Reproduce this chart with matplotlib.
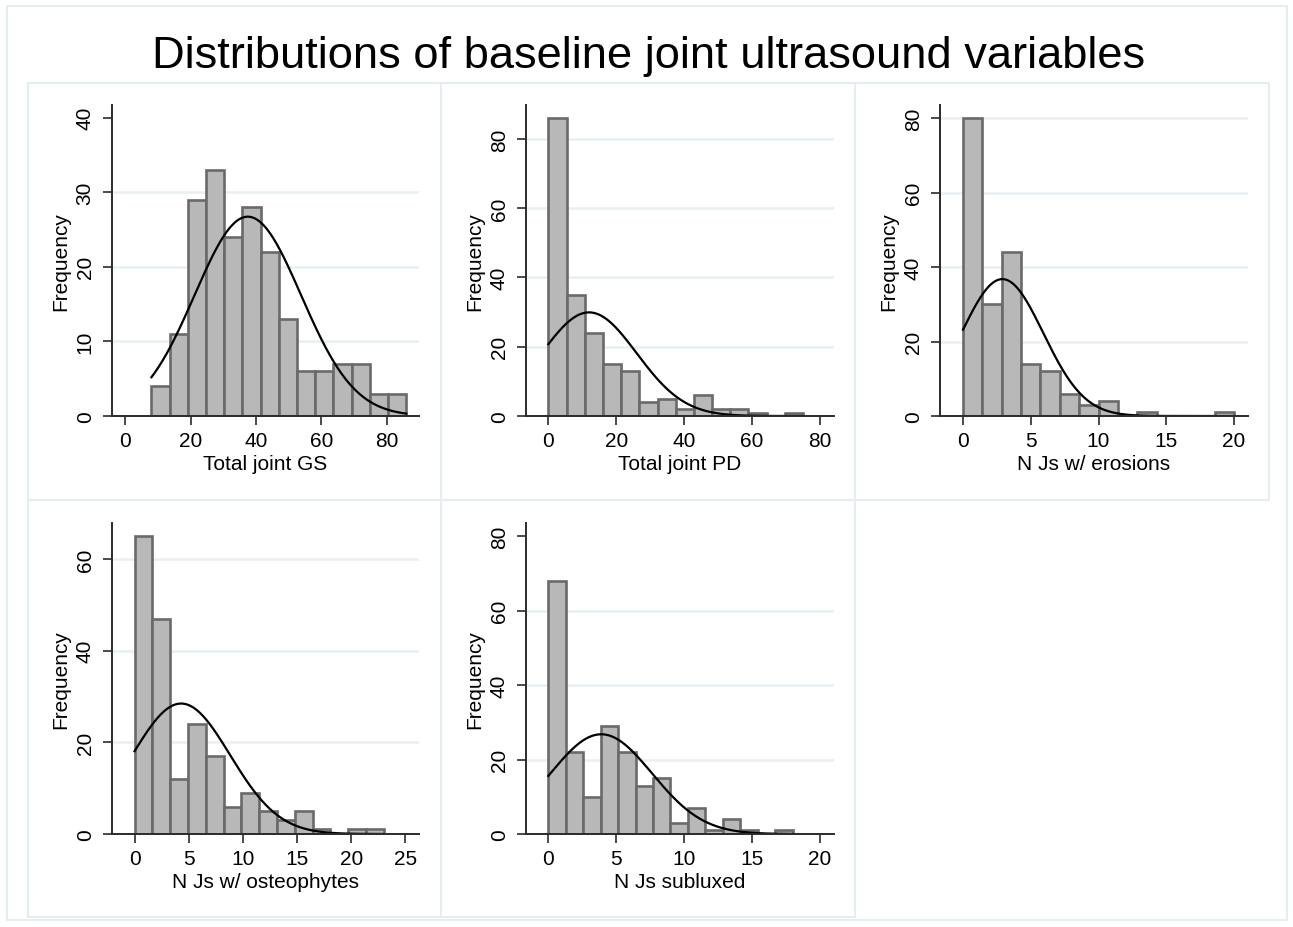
import numpy as np
import matplotlib
matplotlib.use("Agg")
import matplotlib.pyplot as plt
from matplotlib.patches import Rectangle

plt.rcParams['font.family'] = ['Liberation Sans', 'DejaVu Sans']

TITLE = "Distributions of baseline joint ultrasound variables"

# ---- data ----
gs_counts = [4, 11, 29, 33, 24, 28, 22, 13, 6, 6, 7, 7, 3, 3]
gs_range = (8, 86)
gs_mean, gs_sd = 37.5, 16.3

pd_counts = [86, 35, 24, 15, 13, 4, 5, 2, 6, 2, 2, 1, 0, 1]
pd_range = (0, 75)
pd_mean, pd_sd = 12.0, 14.0

ero_counts = [80, 30, 44, 14, 12, 6, 3, 4, 0, 1, 0, 0, 0, 1]
ero_range = (0, 20)
ero_mean, ero_sd = 2.9, 3.02

ost_counts = [65, 47, 12, 24, 17, 6, 9, 5, 3, 5, 1, 0, 1, 1]
ost_range = (0, 23)
ost_mean, ost_sd = 4.3, 4.51

sub_counts = [68, 22, 10, 29, 22, 13, 15, 3, 7, 1, 4, 1, 0, 1]
sub_range = (0, 18)
sub_mean, sub_sd = 3.9, 3.75

xlabels = ["Total joint GS", "Total joint PD", "N Js w/ erosions",
           "N Js w/ osteophytes", "N Js subluxed"]
xticks_list = [[0, 20, 40, 60, 80], [0, 20, 40, 60, 80], [0, 5, 10, 15, 20],
               [0, 5, 10, 15, 20, 25], [0, 5, 10, 15, 20]]
yticks_list = [[0, 10, 20, 30, 40], [0, 20, 40, 60, 80], [0, 20, 40, 60, 80],
               [0, 20, 40, 60], [0, 20, 40, 60, 80]]
grid_list = [[10, 20, 30], [20, 40, 60, 80], [20, 40, 60, 80],
             [20, 40, 60], [20, 40, 60]]

# ---- layout (pixels) ----
W, H = 1293, 928
fig = plt.figure(figsize=(W / 100, H / 100), dpi=100)
fig.patch.set_facecolor('white')

def fx(px):
    return px / W

def fy(py):
    return 1 - py / H

box_col = '#E6EDF0'
# outer border
fig.patches.append(Rectangle((fx(7), fy(921)), fx(1287) - fx(7), fy(7) - fy(921),
                             transform=fig.transFigure, fill=False,
                             edgecolor=box_col, lw=1.5))
cols = [(28, 441), (441, 855), (855, 1269)]
rows = [(84, 501), (501, 918)]
panel_boxes = [(cols[0], rows[0]), (cols[1], rows[0]), (cols[2], rows[0]),
               (cols[0], rows[1]), (cols[1], rows[1])]
for (x0, x1), (y0, y1) in panel_boxes:
    fig.patches.append(Rectangle((fx(x0), fy(y1)), fx(x1) - fx(x0), fy(y0) - fy(y1),
                                 transform=fig.transFigure, fill=False,
                                 edgecolor=box_col, lw=1.5))

fig.text(0.5015, fy(68), TITLE, ha='center', va='baseline', fontsize=32.6)

axes_px = [(112, 419, 106, 417), (526, 834, 106, 417), (940, 1248, 106, 417),
           (112, 419, 524, 835), (526, 834, 524, 835)]
xlims = [(-4.07, 89.9), (-6.57, 84.1), (-1.70, 21.03), (-2.08, 26.25), (-1.64, 21.04)]
ylims = [(0, 41.7), (0, 89.8), (0, 83.6), (0, 67.9), (0, 83.6)]

datasets = [(gs_counts, gs_range, gs_mean, gs_sd),
            (pd_counts, pd_range, pd_mean, pd_sd),
            (ero_counts, ero_range, ero_mean, ero_sd),
            (ost_counts, ost_range, ost_mean, ost_sd),
            (sub_counts, sub_range, sub_mean, sub_sd)]

axis_col = '#2b2b2b'
for i, (counts, rng, mu, sd) in enumerate(datasets):
    x0, x1, y0, y1 = axes_px[i]
    ax = fig.add_axes([fx(x0), fy(y1), fx(x1) - fx(x0), fy(y0) - fy(y1)])
    ax.set_xlim(*xlims[i])
    ax.set_ylim(*ylims[i])
    for g in grid_list[i]:
        ax.axhline(g, color='#E8F0F2', lw=1.8, zorder=0)
    edges = np.linspace(rng[0], rng[1], len(counts) + 1)
    width = edges[1] - edges[0]
    ax.bar(edges[:-1], counts, width=width, align='edge', color='#B8B8B8',
           edgecolor='#6A6A6A', linewidth=1.9, zorder=2)
    n = sum(counts)
    xs = np.linspace(rng[0], rng[1], 400)
    ys = n * width * np.exp(-0.5 * ((xs - mu) / sd) ** 2) / (sd * np.sqrt(2 * np.pi))
    ax.plot(xs, ys, color='black', lw=1.6, zorder=3)

    for s in ['top', 'right']:
        ax.spines[s].set_visible(False)
    for s in ['left', 'bottom']:
        ax.spines[s].set_color(axis_col)
        ax.spines[s].set_linewidth(1.4)
        ax.spines[s].set_zorder(4)
    ax.set_xticks(xticks_list[i])
    ax.set_yticks(yticks_list[i])
    ax.tick_params(axis='both', length=6.5, width=1.2, color=axis_col,
                   labelsize=15, labelcolor='black')
    ax.tick_params(axis='x', pad=4.5)
    ax.tick_params(axis='y', pad=6)
    for lab in ax.get_yticklabels():
        lab.set_rotation(90)
        lab.set_va('center')
    ax.set_xlabel(xlabels[i], fontsize=15, labelpad=3)
    ax.set_ylabel("Frequency", fontsize=15, labelpad=4)
    ax.patch.set_alpha(0)

fig.savefig("out.png", dpi=100, facecolor='white')
